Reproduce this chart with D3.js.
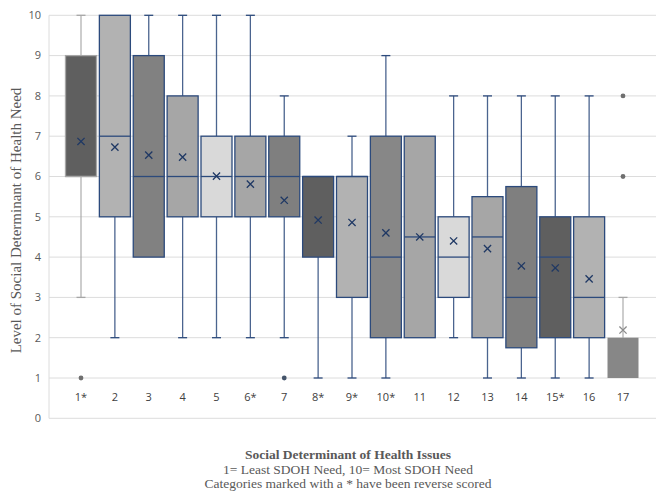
<!DOCTYPE html>
<html>
<head>
<meta charset="utf-8">
<script src="https://cdn.jsdelivr.net/npm/d3@7"></script>
<style>
  body { margin: 0; background: #fff; }
  svg { display: block; }
</style>
</head>
<body>
<svg id="chart" width="656" height="493"></svg>
<script>
const categories = ["1*", "2", "3", "4", "5", "6*", "7", "8*", "9*", "10*", "11", "12", "13", "14", "15*", "16", "17"];
const whiskerLow  = [3, 2, 4, 2, 2, 2, 2, 1, 1, 1, 2, 2, 1, 1, 1, 1, 1];
const q1Values    = [6, 5, 4, 5, 5, 5, 5, 4, 3, 2, 2, 3, 2, 1.75, 2, 2, 1];
const medians     = [6, 7, 6, 6, 6, 6, 6, 6, 6, 4, 4.5, 4, 4.5, 3, 4, 3, 2];
const q3Values    = [9, 10, 9, 8, 7, 7, 7, 6, 6, 7, 7, 5, 5.5, 5.75, 5, 5, 2];
const whiskerHigh = [10, 10, 10, 10, 10, 10, 8, 6, 7, 9, 7, 8, 8, 8, 8, 8, 3];
const means       = [6.87, 6.73, 6.53, 6.48, 6.01, 5.81, 5.41, 4.92, 4.86, 4.6, 4.5, 4.4, 4.21, 3.78, 3.73, 3.46, 2.19];
const outliers    = [[1], [], [], [], [], [], [1], [], [], [], [], [], [], [], [], [], [6, 8]];
const yTicks = [0, 1, 2, 3, 4, 5, 6, 7, 8, 9, 10];

// styling, kept apart from the values
const fills = ["#5f5f5f", "#b2b2b2", "#818181", "#a6a6a6", "#d9d9d9", "#a6a6a6", "#7f7f7f", "#5f5f5f",
  "#b2b2b2", "#878787", "#a6a6a6", "#d9d9d9", "#a6a6a6", "#7f7f7f", "#5f5f5f", "#b2b2b2", "#878787"];
const blue = "#2c4a7c";
const grayLine = "#a6a6a6";

const svg = d3.select("#chart");
const margin = { left: 49, right: 0, top: 15, bottom: 75 };
const W = 656, H = 493;

const x = d3.scalePoint().domain(categories).range([81, 623]);
const y = d3.scaleLinear().domain([0, 10]).range([418.3, 15.3]);
const boxW = 31, capW = 9;

// grid
svg.append("g").selectAll("line").data(yTicks).enter().append("line")
  .attr("x1", margin.left).attr("x2", W)
  .attr("y1", d => y(d)).attr("y2", d => y(d))
  .attr("stroke", "#dcdcdc").attr("stroke-width", 1);
svg.append("line")
  .attr("x1", margin.left).attr("x2", margin.left)
  .attr("y1", y(10)).attr("y2", y(0))
  .attr("stroke", "#dcdcdc");

// y tick labels
svg.append("g").selectAll("text").data(yTicks).enter().append("text")
  .attr("x", 41).attr("y", d => y(d)).attr("dy", "0.35em")
  .attr("text-anchor", "end")
  .style("font-family", "'Open Sans', sans-serif").style("font-size", "11px")
  .attr("fill", "#595959")
  .text(d => d);

// x labels
svg.append("g").selectAll("text").data(categories).enter().append("text")
  .attr("x", d => x(d)).attr("y", 397).attr("dy", "0.35em")
  .attr("text-anchor", "middle")
  .style("font-family", "'Open Sans', sans-serif").style("font-size", "11px")
  .attr("fill", "#404040")
  .text(d => d);

const rows = categories.map((c, i) => ({
  c, i, lo: whiskerLow[i], q1: q1Values[i], med: medians[i], q3: q3Values[i],
  hi: whiskerHigh[i], mean: means[i], out: outliers[i]
}));
const edge = d => (d.i === 0 || d.i === 16) ? grayLine : blue;

const g = svg.append("g").selectAll("g").data(rows).enter().append("g")
  .attr("transform", d => `translate(${x(d.c)},0)`);

// whiskers
g.append("line").attr("y1", d => y(d.q3)).attr("y2", d => y(d.hi))
  .attr("stroke", edge).attr("stroke-width", 1.3).attr("opacity", 0.85);
g.append("line").attr("y1", d => y(d.q1)).attr("y2", d => y(d.lo))
  .attr("stroke", edge).attr("stroke-width", 1.3).attr("opacity", 0.85);
g.filter(d => d.hi > d.q3).append("line")
  .attr("x1", -capW / 2).attr("x2", capW / 2)
  .attr("y1", d => y(d.hi)).attr("y2", d => y(d.hi))
  .attr("stroke", edge).attr("stroke-width", 1.3);
g.filter(d => d.lo < d.q1).append("line")
  .attr("x1", -capW / 2).attr("x2", capW / 2)
  .attr("y1", d => y(d.lo)).attr("y2", d => y(d.lo))
  .attr("stroke", edge).attr("stroke-width", 1.3);

// boxes
g.append("rect")
  .attr("x", -boxW / 2).attr("width", boxW)
  .attr("y", d => y(d.q3)).attr("height", d => y(d.q1) - y(d.q3))
  .attr("fill", d => fills[d.i])
  .attr("stroke", d => d.i === 16 ? "none" : edge(d)).attr("stroke-width", 1.3);

// medians
g.filter(d => d.i !== 16).append("line")
  .attr("x1", -boxW / 2).attr("x2", boxW / 2)
  .attr("y1", d => y(d.med)).attr("y2", d => y(d.med))
  .attr("stroke", edge).attr("stroke-width", 1.3);

// mean markers
const m = 3.6;
g.append("path")
  .attr("d", d => `M${-m},${y(d.mean) - m}L${m},${y(d.mean) + m}M${-m},${y(d.mean) + m}L${m},${y(d.mean) - m}`)
  .attr("stroke", d => d.i === 16 ? "#8c8c8c" : "#1f3864").attr("stroke-width", 1.3).attr("fill", "none");

// outliers
g.selectAll("circle").data(d => d.out.map(v => ({ v, i: d.i }))).enter().append("circle")
  .attr("cy", d => y(d.v)).attr("r", 2.4)
  .attr("fill", d => d.i === 6 ? "#44546a" : "#6f6f6f");

// axis titles
svg.append("text")
  .attr("transform", `translate(21,220.5) rotate(-90)`)
  .attr("text-anchor", "middle")
  .style("font-family", "'Liberation Serif', serif").style("font-size", "15px")
  .attr("fill", "#595959")
  .text("Level of Social Determinant of Health Need");

const titleLines = ["Social Determinant of Health Issues", "1= Least SDOH Need, 10= Most SDOH Need",
  "Categories marked with a * have been reverse scored"];
svg.append("g").selectAll("text").data(titleLines).enter().append("text")
  .attr("x", 348).attr("y", (d, i) => 459 + i * 14.5)
  .attr("text-anchor", "middle")
  .style("font-family", "'Liberation Serif', serif").style("font-size", "13.5px")
  .style("font-weight", (d, i) => i === 0 ? "bold" : "normal")
  .attr("fill", "#595959")
  .text(d => d);
</script>
</body>
</html>
